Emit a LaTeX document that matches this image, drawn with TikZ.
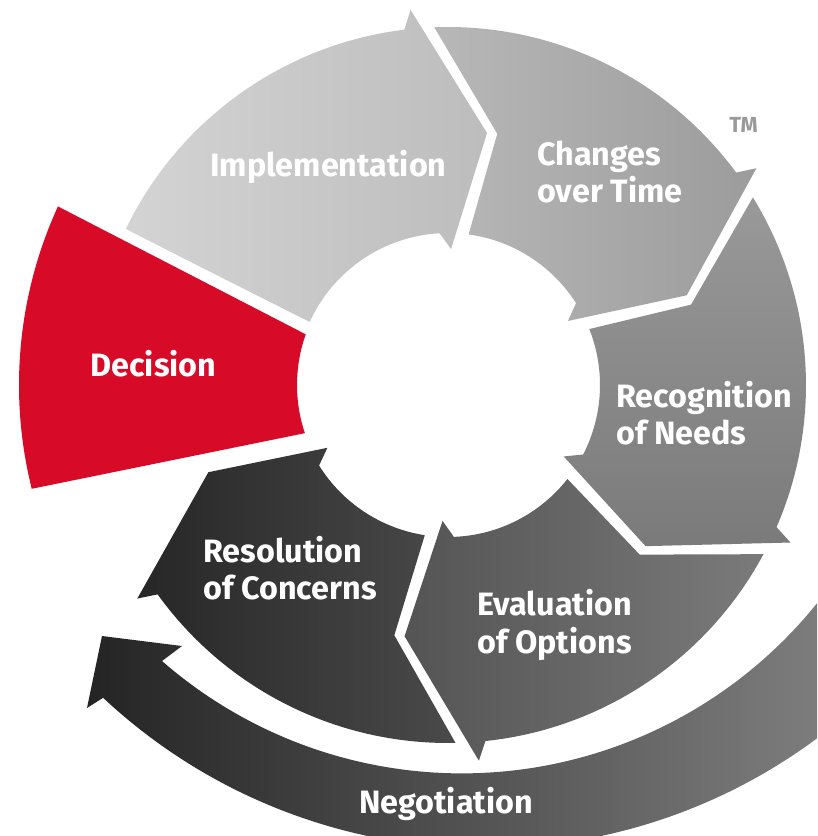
\documentclass[tikz,border=0pt]{standalone}
\usepackage{fontspec}
\setmainfont{Fira Sans}

\definecolor{decisionred}{HTML}{D70A28}
\definecolor{tmgrey}{HTML}{9A9A9A}

\tikzset{
    steptext/.style={font=\bfseries\fontsize{23}{26.5}\selectfont, text=white, align=left, inner sep=0pt},
    implshade/.style={left color=black!17, right color=black!26},
    changeshade/.style={left color=black!28, right color=black!39},
    recogshade/.style={top color=black!40, bottom color=black!52},
    evalshade/.style={left color=black!67, right color=black!52},
    resolshade/.style={left color=black!85, right color=black!71},
    negoshade/.style={left color=black!86, right color=black!42}
}

\begin{document}
\begin{tikzpicture}[x=0.025cm, y=0.025cm]

% Page frame, origin at the centre of the ring
\path[fill=white, use as bounding box] (-448,-451) rectangle (369,385);

% Macro: one ring arrow, tail boundary #1, head boundary #2, shading #3
\newcommand{\ringarrow}[3]{
    \path[#3]
        ({#1+11}:358) arc[start angle={#1+11}, end angle={#2+15.8}, radius=358]
        -- ({#2+14.5}:377) -- (#2:255) -- ({#2+7.5}:136) -- ({#2+12}:152)
        arc[start angle={#2+12}, end angle={#1+1}, radius=152]
        -- ({#1-2.3}:256) -- cycle;
}

% Implementation, straight tail against Decision
\path[implshade]
    (154.2:358) arc[start angle=154.2, end angle=97, radius=358]
    -- (95.7:377) -- (81.2:255) -- (88.7:136) -- (93.2:152)
    arc[start angle=93.2, end angle=155.5, radius=152] -- cycle;

% The other four arrows
\ringarrow{81.2}{20.6}{changeshade}
\ringarrow{20.6}{-39.2}{recogshade}
\ringarrow{-39.2}{-99.8}{evalshade}
\ringarrow{-99.8}{-160}{resolshade}

% Decision sector, with a white rim cutting into its neighbours
\fill[decisionred, preaction={draw=white, line width=0.55cm}]
    (155.4:429) arc[start angle=155.4, end angle=194, radius=429]
    -- (198.6:151) arc[start angle=198.6, end angle=160.4, radius=151] -- cycle;

% Negotiation band round the bottom
\begin{scope}
    \clip (-448,-451) rectangle (369,385);
    \path[negoshade]
        (-286,-276) arc[start angle=-131.1, end angle=-20, radius=456]
        -- (560.7,-96.2) arc[start angle=-20, end angle=-133.1, radius=558]
        -- (-361,-323) -- (-346,-251) -- (-266,-261) -- cycle;
\end{scope}

% Labels
\node[steptext] (impl) at (-119.5,218) {Implementation};
\node[steptext, anchor=west] (changes) at (89,213) {Changes\\over Time};
\node[steptext, anchor=west] (recog) at (168,-28) {Recognition\\of Needs};
\node[steptext, anchor=west] (eval) at (29,-240) {Evaluation\\of Options};
\node[steptext, anchor=west] (resol) at (-245,-183) {Resolution\\of Concerns};
\node[steptext] (decision) at (-294.5,21.5) {Decision};
\node[steptext] (nego) at (-2,-419) {Negotiation};
\node[font=\bfseries\fontsize{15.5}{18}\selectfont, text=tmgrey, inner sep=0pt] (tm) at (295.5,260.5) {TM};

\end{tikzpicture}
\end{document}
